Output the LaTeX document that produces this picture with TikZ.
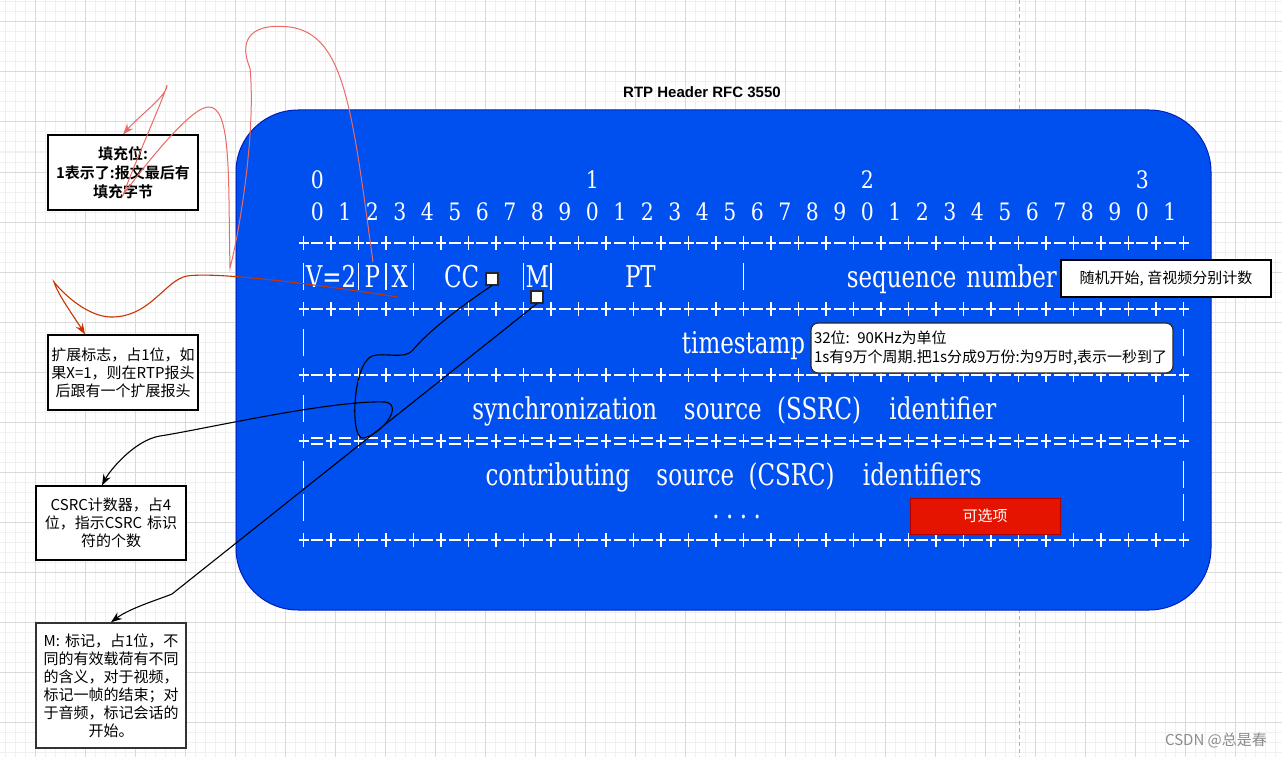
\documentclass[tikz,border=0pt]{standalone}
\usepackage{fontspec}
\usetikzlibrary{arrows.meta, positioning}
\newfontfamily\cjk{Noto Sans CJK SC}[BoldFont={Noto Sans CJK SC Bold}]
\newfontfamily\titlefont{Liberation Sans}
\newfontfamily\artfont{DejaVu Serif}[FakeStretch=0.85]
\newfontfamily\artfonttall{DejaVu Serif}[FakeStretch=0.765]
\definecolor{HdrBlue}{HTML}{0050EF}
\definecolor{HdrBlueLine}{HTML}{001DBC}
\definecolor{OptRed}{HTML}{E51400}
\definecolor{OptRedLine}{HTML}{B20000}
\definecolor{PadRed}{HTML}{EA6B66}
\definecolor{ExtRed}{HTML}{C73500}
\definecolor{GridMinor}{HTML}{F0F0F0}
\definecolor{GridMajor}{HTML}{DADADA}
\definecolor{MarkGray}{HTML}{8C8C8C}

% column of the ascii art -> x
\newcommand{\colx}[1]{303.5+13.75*(#1)}
% +-+-+ separator
\newcommand{\dashrow}[1]{%
  \foreach \k in {0,...,32} {
    \draw[artline] ({\colx{2*\k}-5},#1) -- ({\colx{2*\k}+5},#1);
    \draw[artline] ({\colx{2*\k}},#1-7) -- ({\colx{2*\k}},#1+7);}
  \foreach \k in {0,...,31}
    \draw[artline] ({\colx{2*\k+1}-6},#1) -- ({\colx{2*\k+1}+6},#1);}
% +=+=+ separator
\newcommand{\eqrow}[1]{%
  \foreach \k in {0,...,32} {
    \draw[artline] ({\colx{2*\k}-5},#1) -- ({\colx{2*\k}+5},#1);
    \draw[artline] ({\colx{2*\k}},#1-7) -- ({\colx{2*\k}},#1+7);}
  \foreach \k in {0,...,31} {
    \draw[artline] ({\colx{2*\k+1}-6},#1-3) -- ({\colx{2*\k+1}+6},#1-3);
    \draw[artline] ({\colx{2*\k+1}-6},#1+3) -- ({\colx{2*\k+1}+6},#1+3);}}
% | at both ends
\newcommand{\barpair}[1]{%
  \draw[artline] ({\colx{0}},#1-13) -- ({\colx{0}},#1+14);
  \draw[artline] ({\colx{64}},#1-13) -- ({\colx{64}},#1+14);}

\begin{document}
\begin{tikzpicture}[
    x=1pt, y=-1pt,
    note/.style={
        draw=black,
        line width=1.2pt,
        fill=white,
        minimum width=150pt,
        minimum height=#1,
        text width=148pt,
        inner xsep=1pt,
        align=center,
        font=\cjk\fontsize{15}{18}\selectfont
    },
    callout/.style={draw=black, line width=1.2pt, fill=white,
        font=\cjk\fontsize{15}{19}\selectfont},
    bits/.style={text=white, inner sep=0pt,
        font=\artfont\fontsize{24}{24}\selectfont},
    field/.style={text=white, inner sep=0pt, anchor=base,
        font=\artfonttall\fontsize{30}{30}\selectfont},
    artline/.style={white, line width=1.1pt},
    handle/.style={draw=black!85, fill=white, line width=1.2pt,
        minimum size=12pt, inner sep=0pt},
    arr/.style={-{Stealth[length=11pt, width=8pt]}, line width=1.1pt, draw=#1}
]
\useasboundingbox (0,0) rectangle (1282,757);

% GRID
\fill[white] (0,0) rectangle (1282,757);
\foreach \gx in {5,15,...,1275} \draw[GridMinor, line width=1pt] (\gx,0) -- (\gx,757);
\foreach \gy in {2,12,...,752} \draw[GridMinor, line width=1pt] (0,\gy) -- (1282,\gy);
\foreach \gx in {35,85,...,1235} \draw[GridMajor, line width=1pt] (\gx,0) -- (\gx,757);
\foreach \gy in {22,72,...,722} \draw[GridMajor, line width=1pt] (0,\gy) -- (1282,\gy);
\draw[black!30, line width=1pt, dash pattern=on 4pt off 3pt] (1019.5,0) -- (1019.5,757);

% HEADER
\node[draw=HdrBlueLine, fill=HdrBlue, line width=1pt, rounded corners=62pt,
minimum width=975pt, minimum height=500pt] (hdr) at (723.5,360) {};

\node[font=\titlefont\bfseries\fontsize{15}{18}\selectfont] (title) at (702,92)
{RTP Header RFC 3550};

% bit numbers
\foreach \d in {0,...,3}
  \node[bits] (ten\d) at ({\colx{1+20*\d}},180) {\d};
\foreach \k in {0,...,31} {
  \pgfmathtruncatemacro\u{mod(\k,10)}
  \node[bits] (bit\k) at ({\colx{1+2*\k}},212) {\u};
}

% separators
\dashrow{243}
\dashrow{309}
\dashrow{375}
\eqrow{441}
\dashrow{540}

% first word
\foreach \c in {0,4,6,8,16,18,32,64}
  \draw[artline] ({\colx{\c}},263) -- ({\colx{\c}},290);
\foreach \c/\t [count=\n] in {2/V=2, 5/P, 7/X, 11.5/CC, 17/M, 24.5/PT,
    43.5/sequence, 51.5/number}
  \node[field] (fld\n) at ({\colx{\c}},287) {\t};

% timestamp
\barpair{342}
\node[field] (ts) at ({\colx{32}},353) {timestamp};

% SSRC
\barpair{408}
\foreach \c/\t [count=\n] in {19/synchronization, 30.5/source, 37.5/(SSRC),
    46.5/identifier}
  \node[field] (ssrc\n) at ({\colx{\c}},419) {\t};

% CSRC
\barpair{474}
\barpair{507}
\foreach \c/\t [count=\n] in {18.5/contributing, 28.5/source, 35.5/(CSRC),
    45/identifiers}
  \node[field] (csrc\n) at ({\colx{\c}},485) {\t};
\foreach \c in {30,...,33}
  \node[field] (dot\c) at ({\colx{\c}},518) {.};

% CALLOUTS
\node[callout, minimum width=210pt, minimum height=37pt] (seqnote)
at (1166,278.5) {随机开始, 音视频分别计数};

\node[callout, draw=black!85, rounded corners=7pt, text width=356pt,
inner xsep=3pt, minimum height=50pt, align=left] (tsnote)
at (992,348) {32位: 90KHz为单位\\1s有9万个周期.把1s分成9万份:为9万时,表示一秒到了};

\node[draw=OptRedLine, fill=OptRed, text=white, line width=1pt,
minimum width=150pt, minimum height=36pt,
font=\cjk\fontsize{15}{18}\selectfont] (optnote) at (985,516) {可选项};

% NOTES
\node[note=75pt, font=\cjk\bfseries\fontsize{15}{19}\selectfont] (padnote)
at (123,172.5) {填充位:\\1表示了:报文最后有\\填充字节};

\node[note=75pt] (extnote) at (123,372.5)
{扩展标志，占1位，如\\果X=1，则在RTP报头\\后跟有一个扩展报头};

\node[note=74pt] (ccnote) at (111,523)
{CSRC计数器，占4\\位，指示CSRC 标识\\符的个数};

\node[note=125pt, draw=black!80, line width=1.5pt] (mnote) at (111,685.5)
{M: 标记，占1位，不\\同的有效载荷有不同\\的含义，对于视频，\\标记一帧的结束；对\\于音频，标记会话的\\开始。};

% CONNECTIONS
\node[handle] (ccmark) at (492,279) {};
\node[handle] (mmark) at (537,297) {};
\coordinate (pend) at (373,262);
\coordinate (xend) at (398,297);

\draw[arr=PadRed, line width=1pt]
(pend) .. controls (352,110) and (345,35) .. (290,27)
.. controls (245,22) and (240,45) .. (250,68)
.. controls (256,130) and (240,230) .. (230,268)
.. controls (228,180) and (232,105) .. (208,107)
.. controls (190,108) and (145,165) .. (123,195)
.. controls (140,150) and (165,95) .. (167,85)
.. controls (168,95) and (140,115) .. (padnote.north);

\draw[arr=ExtRed]
(xend) .. controls (300,282) and (215,272) .. (187,276)
.. controls (165,280) and (150,318) .. (110,317)
.. controls (85,316) and (60,290) .. (54,282)
.. controls (58,295) and (75,318) .. ([xshift=-38pt]extnote.north);

\draw[arr=black]
(ccmark.south) .. controls (455,310) and (425,335) .. (413,350)
.. controls (405,360) and (385,352) .. (372,356)
.. controls (352,365) and (350,440) .. (363,438)
.. controls (380,436) and (405,405) .. (385,402)
.. controls (330,400) and (200,430) .. (160,436)
.. controls (135,440) and (110,470) .. ([xshift=-9pt]ccnote.north);

\draw[arr=black]
(mmark.south) -- (172,594)
.. controls (160,599) and (130,608) .. (mnote.north);

% watermark
\node[text=MarkGray, font=\cjk\fontsize{15}{18}\selectfont] (mark)
at (1216,740) {CSDN @总是春};

\end{tikzpicture}
\end{document}
